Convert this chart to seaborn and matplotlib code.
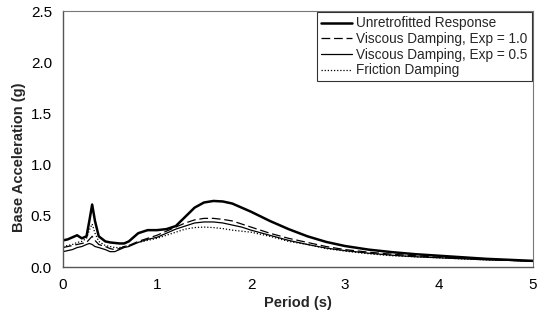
import matplotlib
matplotlib.use("Agg")
import matplotlib.pyplot as plt
import seaborn as sns
import pandas as pd

# Response spectra: base acceleration (g) against period (s)
period = [0.00, 0.05, 0.10, 0.15, 0.20, 0.25, 0.28, 0.31, 0.34, 0.38, 0.45, 0.50,
          0.55, 0.60, 0.65, 0.70, 0.80, 0.90, 1.00, 1.10, 1.20, 1.30, 1.40, 1.50,
          1.60, 1.70, 1.80, 1.90, 2.00, 2.20, 2.40, 2.60, 2.80, 3.00, 3.25, 3.50,
          3.75, 4.00, 4.25, 4.50, 4.75, 5.00]

unretrofitted = [0.26, 0.27, 0.29, 0.31, 0.28, 0.30, 0.45, 0.61, 0.45, 0.30, 0.25, 0.24,
                 0.235, 0.23, 0.23, 0.25, 0.33, 0.36, 0.36, 0.37, 0.40, 0.49, 0.58, 0.63,
                 0.645, 0.64, 0.62, 0.58, 0.54, 0.45, 0.37, 0.30, 0.245, 0.205, 0.17, 0.145,
                 0.125, 0.11, 0.095, 0.08, 0.07, 0.06]

viscous_exp10 = [0.19, 0.20, 0.21, 0.22, 0.23, 0.24, 0.27, 0.30, 0.26, 0.22, 0.20, 0.18,
                 0.17, 0.18, 0.20, 0.21, 0.25, 0.28, 0.31, 0.35, 0.39, 0.43, 0.46, 0.475,
                 0.475, 0.465, 0.45, 0.42, 0.39, 0.33, 0.28, 0.24, 0.20, 0.17, 0.145, 0.125,
                 0.11, 0.095, 0.085, 0.075, 0.065, 0.06]

viscous_exp05 = [0.15, 0.16, 0.17, 0.19, 0.20, 0.22, 0.23, 0.22, 0.20, 0.19, 0.17, 0.15,
                 0.15, 0.17, 0.19, 0.20, 0.24, 0.27, 0.29, 0.33, 0.37, 0.40, 0.43, 0.44,
                 0.44, 0.43, 0.41, 0.39, 0.36, 0.31, 0.26, 0.22, 0.185, 0.16, 0.135, 0.115,
                 0.10, 0.09, 0.08, 0.07, 0.065, 0.055]

friction = [0.20, 0.21, 0.22, 0.24, 0.25, 0.28, 0.36, 0.42, 0.33, 0.25, 0.21, 0.20,
            0.19, 0.19, 0.20, 0.21, 0.24, 0.26, 0.28, 0.31, 0.34, 0.37, 0.385, 0.39,
            0.385, 0.375, 0.36, 0.35, 0.34, 0.30, 0.25, 0.22, 0.18, 0.155, 0.13, 0.11,
            0.10, 0.09, 0.08, 0.07, 0.065, 0.055]

series_names = ["Unretrofitted Response", "Viscous Damping, Exp = 1.0",
                "Viscous Damping, Exp = 0.5", "Friction Damping"]
x_ticks = [0, 1, 2, 3, 4, 5]
y_ticks = [0.0, 0.5, 1.0, 1.5, 2.0, 2.5]

sns.set_theme(style="white")
plt.rcParams["font.family"] = ["Liberation Sans", "DejaVu Sans"]

frames = []
for name, vals in zip(series_names, [unretrofitted, viscous_exp10, viscous_exp05, friction]):
    frames.append(pd.DataFrame({"Period": period, "Accel": vals, "Case": name}))
df = pd.concat(frames, ignore_index=True)

fig = plt.figure(figsize=(5.4, 3.2), dpi=100)
ax = fig.add_axes([0.1167, 0.1656, 0.8703, 0.80])

styles = {
    series_names[0]: dict(lw=1.8, ls="-"),
    series_names[1]: dict(lw=0.9, ls=(0, (7, 3))),
    series_names[2]: dict(lw=0.9, ls="-"),
    series_names[3]: dict(lw=0.9, ls=(0, (1, 1.5))),
}
for name in series_names:
    sub = df[df["Case"] == name]
    sns.lineplot(data=sub, x="Period", y="Accel", ax=ax, color="black",
                 label=name, estimator=None, sort=False, **styles[name])

ax.set_xlim(0, 5)
ax.set_ylim(0, 2.5)
ax.set_xticks(x_ticks)
ax.set_xticklabels([str(t) for t in x_ticks])
ax.set_yticks(y_ticks)
ax.set_yticklabels([f"{t:.1f}" for t in y_ticks])
ax.tick_params(axis="both", direction="out", length=4, width=0.8,
               colors="#555555", labelcolor="black", labelsize=11, pad=4)
ax.set_xlabel("Period (s)", fontsize=10.5, fontweight="bold", labelpad=3)
ax.set_ylabel("Base Acceleration (g)", fontsize=10.5, fontweight="bold")
ax.yaxis.set_label_coords(-0.078, 0.43)

for side in ["left", "bottom"]:
    ax.spines[side].set_color("#555555")
    ax.spines[side].set_linewidth(1.0)
for side in ["top", "right"]:
    ax.spines[side].set_color("#777777")
    ax.spines[side].set_linewidth(0.8)

leg = ax.legend(loc="upper right", fontsize=9.8, frameon=True, fancybox=False,
                borderaxespad=0.1, handlelength=2.3, handletextpad=0.3,
                labelspacing=0.12, borderpad=0.3)
leg.get_frame().set_edgecolor("black")
leg.get_frame().set_linewidth(0.8)

fig.savefig("out.png", dpi=100)
